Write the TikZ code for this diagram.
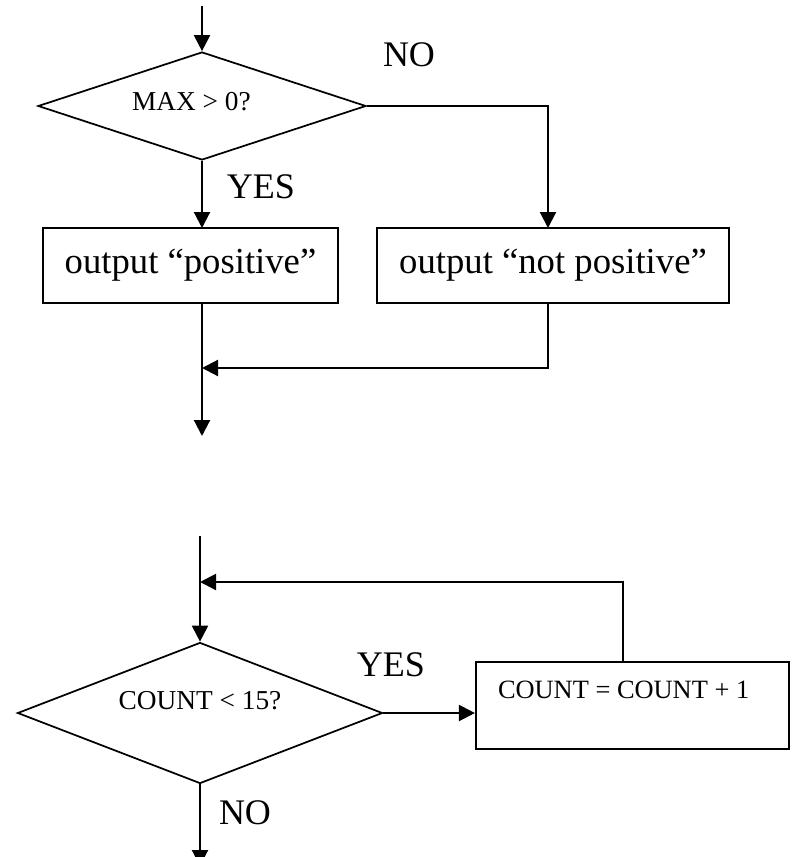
\documentclass[tikz,border=0pt]{standalone}
\usepackage{fontspec}
\setmainfont{Liberation Serif}
\usetikzlibrary{shapes.geometric,arrows.meta,calc}
\begin{document}
\begin{tikzpicture}[x=0.75pt,y=-0.75pt,
  line width=1.5pt,
  conn/.style={draw,line width=1.6pt},
  arr/.style={conn,-{Triangle[length=12pt,width=12pt]}},
  dec/.style={draw,diamond,inner sep=0pt,line width=1.3pt,font=\fontsize{20.5}{24}\selectfont},
  proc/.style={draw,rectangle,inner sep=0pt,line width=1.6pt,font=\fontsize{27.5}{32}\selectfont},
  lab/.style={inner sep=0pt,font=\fontsize{27}{31}\selectfont}]
\useasboundingbox (0,0) rectangle (796,857);
\clip (0,0) rectangle (796,857);
% ---------- top flowchart ----------
\coordinate (top1) at (202,6);
\node[dec,shape aspect=3.04,minimum width=246pt,minimum height=81pt] (d1) at (202,106) {\raisebox{7pt}{MAX > 0?\hspace{16pt}}};
\node[proc,minimum width=221.25pt,minimum height=56.25pt] (b1) at (190.5,265.5) {output “positive”};
\node[proc,minimum width=264pt,minimum height=56.25pt] (b2) at (553,265.5) {output “not positive”};
\coordinate (c1) at (202,228);
\coordinate (c2) at (548,228);
\coordinate (c1b) at (202,303);
\coordinate (c2b) at (548,303);
\coordinate (m1) at (548,368);
\coordinate (j1) at (202,368);
\coordinate (e1) at (202,436);
\node[lab] (no1) at (409,55) {NO};
\node[lab] (yes1) at (261,187) {YES};
\draw[arr] (top1) -- (d1.north);
\draw[arr] (d1.south) -- (c1);
\draw[arr] (d1.east) -| (c2);
\draw[arr] (c1b) -- (e1);
\draw[arr] (c2b) -- (m1) -- (j1);
% ---------- bottom flowchart ----------
\coordinate (top2) at (200,536);
\node[dec,shape aspect=2.59,minimum width=273.75pt,minimum height=105.75pt] (d2) at (200,713) {\raisebox{19pt}{COUNT < 15?}};
\node[proc,minimum width=234.75pt,minimum height=65.25pt] (b3) at (632.5,705.5) {};
\node[inner sep=0pt,anchor=west,font=\fontsize{19.8}{23}\selectfont] (b3t) at (497,690) {COUNT = COUNT + 1};
\coordinate (f1) at (623,582);
\coordinate (f2) at (200,582);
\coordinate (e2) at (200,866);
\node[lab] (yes2) at (391,665) {YES};
\node[lab] (no2) at (245,813) {NO};
\draw[arr] (top2) -- (d2.north);
\draw[arr] (b3.north -| f1) -- (f1) -- (f2);
\draw[arr] (d2.east) -- (d2.east -| b3.west);
\draw[arr] (d2.south) -- (e2);
\end{tikzpicture}
\end{document}
